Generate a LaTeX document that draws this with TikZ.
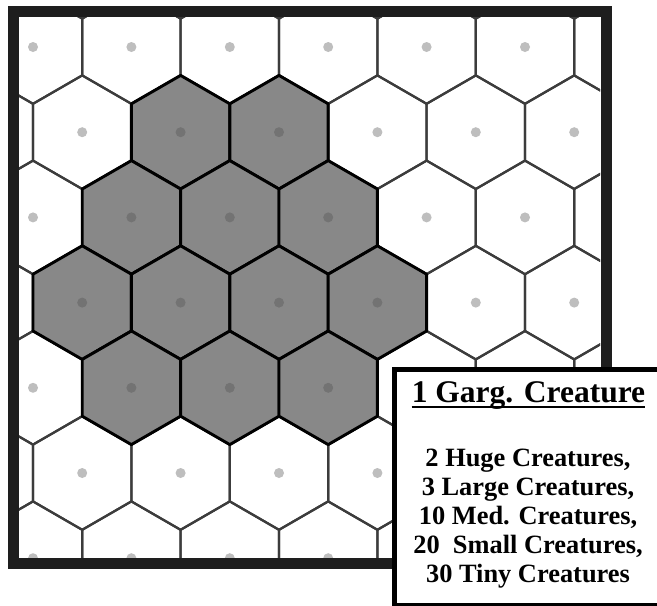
\documentclass[tikz,border=0pt]{standalone}
\usepackage{fontspec}
\setmainfont{Liberation Serif}[BoldFont={Liberation Serif Bold}]
\usetikzlibrary{calc}

\definecolor{framegray}{HTML}{1E1E1E}
\definecolor{cellgray}{HTML}{888888}
\definecolor{edgegray}{HTML}{3C3C3C}
\definecolor{dotlight}{HTML}{BEBEBE}
\definecolor{dotdark}{HTML}{737373}

\tikzset{
  plaincell/.style={draw=edgegray,line width=2.2pt,line join=round},
  gargcell/.style={draw=black,fill=cellgray,line width=2.9pt,line join=round},
  frameline/.style={draw=framegray,line width=11.5pt},
  legendbox/.style={draw=black,fill=white,line width=5pt},
  legendhead/.style={font=\bfseries\fontsize{31.5}{36}\selectfont,inner sep=0pt,anchor=base},
  legendline/.style={font=\bfseries\fontsize{26.4}{29.2}\selectfont,inner sep=0pt,anchor=base}
}

\begin{document}
\begin{tikzpicture}[x=1pt,y=-1pt]
  \useasboundingbox (0,0) rectangle (657,606);
  % hex map
  \begin{scope}
    \clip (19,17) rectangle (600,558);
    \fill[white] (19,17) rectangle (600,558);
    \foreach \r in {-1,...,7}
      \foreach \c in {-1,...,6}{
        \pgfmathsetmacro\hx{33+98.4*\c+49.2*mod(abs(\r),2)}
        \pgfmathsetmacro\hy{47+85.2*\r}
        \draw[plaincell,shift={(\hx,\hy)}] (30:56.8) \foreach \a in {90,150,210,270,330}{ -- (\a:56.8)} -- cycle;
        \fill[dotlight] (\hx,\hy) circle (5);
      }
    % the gargantuan creature's space
    \foreach \r/\c in {1/1,1/2,2/1,2/2,2/3,3/0,3/1,3/2,3/3,4/1,4/2,4/3}{
      \pgfmathsetmacro\hx{33+98.4*\c+49.2*mod(\r,2)}
      \pgfmathsetmacro\hy{47+85.2*\r}
      \draw[gargcell,shift={(\hx,\hy)}] (30:56.8) \foreach \a in {90,150,210,270,330}{ -- (\a:56.8)} -- cycle;
      \fill[dotdark] (\hx,\hy) circle (5);
    }
  \end{scope}
  % border
  \draw[frameline] (13.5,11.5) rectangle (606.5,563.5);
  % legend
  \draw[legendbox] (394.5,369.5) rectangle (664,605.5);
  \node[legendhead] (head) at (528.5,402) {1 Garg. Creature};
  \draw[line width=2.8pt] ([yshift=-5pt]head.base west) -- ([yshift=-5pt]head.base east);
  \foreach \t [count=\k from 0] in {2 Huge Creatures{,},3 Large Creatures{,},10 Med. Creatures{,},20\ \ Small Creatures{,},30 Tiny Creatures}
    \node[legendline] (line\k) at (528,466+29.2*\k) {\t};
\end{tikzpicture}
\end{document}
